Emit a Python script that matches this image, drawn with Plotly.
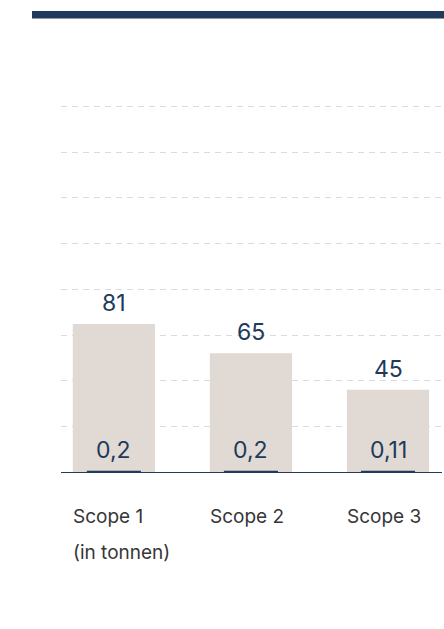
import plotly.graph_objects as go

# ---- data ----
categories = ["Scope 1", "Scope 2", "Scope 3"]
values_main = [81, 65, 45]
values_small = [0.2, 0.2, 0.11]
unit_note = "(in tonnen)"

# ---- style ----
NAVY = "#21395a"
BEIGE = "#e0d9d4"
GRID = "#d8dce2"
LABEL_GREY = "#363636"
FONT = "Inter, Open Sans, sans-serif"

W, H = 444, 629
ML, MR, MT, MB = 61, 2, 103, 157
Y_MAX = 202
plot_w = W - ML - MR
plot_h = H - MT - MB
x_range = [-0.386, 2.394]
px_per_unit = plot_w / (x_range[1] - x_range[0])
big_width = 0.60
small_width = 0.38


def fmt(v):
    return f"{v:g}".replace(".", ",")


fig = go.Figure()
fig.add_trace(go.Bar(
    x=categories, y=values_main, width=big_width,
    marker=dict(color=BEIGE, line=dict(width=0)),
    hoverinfo="skip", showlegend=False,
))
fig.add_trace(go.Bar(
    x=categories, y=values_small, width=small_width,
    marker=dict(color=NAVY, line=dict(width=2, color=NAVY)),
    hoverinfo="skip", showlegend=False,
))

annotations = []
for c, v in zip(categories, values_main):
    annotations.append(dict(x=c, y=v, xref="x", yref="y", text=fmt(v),
                            showarrow=False, yanchor="bottom", xanchor="center",
                            yshift=5, font=dict(family=FONT, size=23, color=NAVY)))
for c, v in zip(categories, values_small):
    annotations.append(dict(x=c, y=v, xref="x", yref="y", text=fmt(v),
                            showarrow=False, yanchor="bottom", xanchor="center",
                            yshift=6, font=dict(family=FONT, size=23, color=NAVY)))
# category labels, left-aligned with the bars
for c in categories:
    annotations.append(dict(x=c, y=0, xref="x", yref="paper", text=c,
                            showarrow=False, yanchor="middle", xanchor="left",
                            xshift=-big_width * px_per_unit / 2 - 2, yshift=-44,
                            font=dict(family=FONT, size=19, color=LABEL_GREY)))
annotations.append(dict(x=categories[0], y=0, xref="x", yref="paper", text=unit_note,
                        showarrow=False, yanchor="middle", xanchor="left",
                        xshift=-big_width * px_per_unit / 2 - 2, yshift=-80,
                        font=dict(family=FONT, size=19, color=LABEL_GREY)))


def px_to_paper_x(px):
    return (px - ML) / plot_w


def px_to_paper_y(py):
    return (H - MB - py) / plot_h


# top banner bar
fig.add_shape(type="rect", xref="paper", yref="paper",
              x0=px_to_paper_x(32), x1=px_to_paper_x(W + 2),
              y0=px_to_paper_y(18.5), y1=px_to_paper_y(11),
              fillcolor=NAVY, line=dict(width=0), layer="above")

fig.update_layout(
    width=W, height=H,
    margin=dict(l=ML, r=MR, t=MT, b=MB, pad=0),
    paper_bgcolor="white", plot_bgcolor="white",
    barmode="overlay",
    annotations=annotations,
    font=dict(family=FONT),
    xaxis=dict(type="category", range=x_range, showgrid=False, zeroline=False,
               showticklabels=False, ticks="", showline=True, linecolor=NAVY,
               linewidth=1.2, fixedrange=True),
    yaxis=dict(range=[0, Y_MAX], dtick=25, showgrid=True, gridcolor=GRID,
               griddash="6px,5px", gridwidth=1, zeroline=False,
               showticklabels=False, ticks="", showline=False, fixedrange=True),
)

fig.write_html("out.html")
